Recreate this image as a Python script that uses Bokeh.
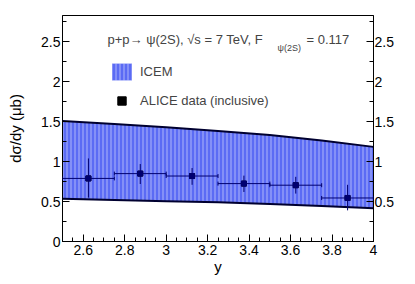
from bokeh.plotting import figure
from bokeh.models import (Range1d, LinearAxis, FixedTicker, Label, Legend, LegendItem,
                          Whisker, ColumnDataSource, TeeHead)
from bokeh.embed import file_html
from bokeh.resources import INLINE

# ---- data ----
band_x = [2.5, 2.75, 3.0, 3.25, 3.5, 3.75, 4.0]
band_upper = [1.51, 1.47, 1.43, 1.385, 1.335, 1.265, 1.185]
band_lower = [0.535, 0.52, 0.505, 0.49, 0.47, 0.445, 0.415]

data_x = [2.625, 2.875, 3.125, 3.375, 3.625, 3.875]
data_xerr = [0.125, 0.125, 0.125, 0.125, 0.125, 0.125]
data_y = [0.79, 0.85, 0.82, 0.725, 0.705, 0.545]
data_ylow = [0.55, 0.72, 0.71, 0.62, 0.60, 0.39]
data_yhigh = [1.04, 0.97, 0.92, 0.825, 0.81, 0.71]

x_ticks = [2.6, 2.8, 3.0, 3.2, 3.4, 3.6, 3.8, 4.0]
x_tick_labels = ["2.6", "2.8", "3", "3.2", "3.4", "3.6", "3.8", "4"]
x_minor = [2.55, 2.6, 2.65, 2.7, 2.75, 2.8, 2.85, 2.9, 2.95, 3.0, 3.05, 3.1, 3.15, 3.2,
           3.25, 3.3, 3.35, 3.4, 3.45, 3.5, 3.55, 3.6, 3.65, 3.7, 3.75, 3.8, 3.85, 3.9, 3.95]
y_ticks = [0.0, 0.5, 1.0, 1.5, 2.0, 2.5]
y_tick_labels = ["0", "0.5", "1", "1.5", "2", "2.5"]
y_minor = [0.25, 0.75, 1.25, 1.75, 2.25, 2.75]

FONT = "Liberation Sans"
NAVY = "#000070"

p = figure(width=407, height=276, output_backend="svg", toolbar_location=None,
           x_range=Range1d(2.5, 4.0), y_range=Range1d(0, 2.83),
           frame_width=311, frame_height=226,
           min_border_left=62, min_border_right=34, min_border_top=15, min_border_bottom=35)
p.background_fill_color = "white"
p.border_fill_color = "white"
p.outline_line_color = "black"
p.outline_line_width = 1
p.xgrid.visible = False
p.ygrid.visible = False

# band
src_band = ColumnDataSource(dict(x=band_x, lo=band_lower, hi=band_upper))
band = p.varea(x="x", y1="lo", y2="hi", source=src_band, fill_color="#5b6bf4",
               hatch_pattern="|", hatch_color="white", hatch_alpha=0.5,
               hatch_scale=4, hatch_weight=1)
p.line(x="x", y="hi", source=src_band, line_color="#000030", line_width=2)
p.line(x="x", y="lo", source=src_band, line_color="#000030", line_width=2)

# data
xl = [a - b for a, b in zip(data_x, data_xerr)]
xh = [a + b for a, b in zip(data_x, data_xerr)]
src = ColumnDataSource(dict(x=data_x, y=data_y, xl=xl, xh=xh, yl=data_ylow, yh=data_yhigh))
legend_marker = p.scatter(x="x", y="y", source=src, marker="square", size=5,
                          color="black")
p.segment(x0="x", y0="yl", x1="x", y1="yh", source=src, line_color=NAVY, line_width=1)
p.segment(x0="xl", y0="y", x1="xh", y1="y", source=src, line_color=NAVY, line_width=1)
p.add_layout(Whisker(base="y", lower="xl", upper="xh", source=src, dimension="width",
                     level="overlay", line_alpha=0,
                     upper_head=TeeHead(size=4, line_color=NAVY, line_width=1),
                     lower_head=TeeHead(size=4, line_color=NAVY, line_width=1)))
p.scatter(x="x", y="y", source=src, marker="square", size=5, color=NAVY)

# axes
left = p.yaxis[0]
bottom = p.xaxis[0]
bottom.ticker = FixedTicker(ticks=x_ticks, minor_ticks=x_minor)
left.ticker = FixedTicker(ticks=y_ticks, minor_ticks=y_minor)
bottom.major_label_overrides = dict(zip(x_ticks, x_tick_labels))
left.major_label_overrides = dict(zip(y_ticks, y_tick_labels))

right = LinearAxis(ticker=FixedTicker(ticks=y_ticks, minor_ticks=y_minor))
rlabels = dict(zip(y_ticks, y_tick_labels))
rlabels[0.0] = ""
right.major_label_overrides = rlabels
p.add_layout(right, "right")

for ax in [bottom, left, right]:
    ax.major_tick_in = 7
    ax.major_tick_out = 0
    ax.minor_tick_in = 4
    ax.minor_tick_out = 0
    ax.axis_line_color = "black"
    ax.major_tick_line_color = "black"
    ax.minor_tick_line_color = "black"
    ax.major_label_text_font = FONT
    ax.major_label_text_font_size = "14px"
    ax.major_label_text_color = "black"
bottom.major_label_standoff = 3
left.major_label_standoff = 2
right.major_label_standoff = 1
bottom.axis_label = "y"
bottom.axis_label_standoff = 0
left.axis_label = "dσ/dy (μb)"
left.axis_label_standoff = 14
for ax in [bottom, left]:
    ax.axis_label_text_font = FONT
    ax.axis_label_text_font_size = "15px"
    ax.axis_label_text_font_style = "normal"
    ax.axis_label_text_color = "black"

# title text
p.add_layout(Label(x=45, y=202.5, x_units="screen", y_units="screen",
                   text="p+p\u2192 \u03c8(2S), \u221as = 7 TeV, F",
                   text_font=FONT, text_font_size="13px", text_baseline="middle"))
p.add_layout(Label(x=215, y=194, x_units="screen", y_units="screen",
                   text="\u03c8(2S)", text_font=FONT, text_font_size="9px",
                   text_baseline="middle"))
p.add_layout(Label(x=244, y=202.5, x_units="screen", y_units="screen",
                   text="= 0.117", text_font=FONT, text_font_size="13px",
                   text_baseline="middle"))

legend = Legend(items=[LegendItem(label="ICEM", renderers=[band]),
                       LegendItem(label="ALICE data (inclusive)", renderers=[legend_marker])],
                location=(47, 130), margin=0, padding=0, spacing=8,
                glyph_width=25, glyph_height=21, label_standoff=6,
                label_text_font=FONT, label_text_font_size="13px",
                border_line_alpha=0, background_fill_alpha=0)
p.add_layout(legend)

open("out.html", "w").write(file_html(p, INLINE))
